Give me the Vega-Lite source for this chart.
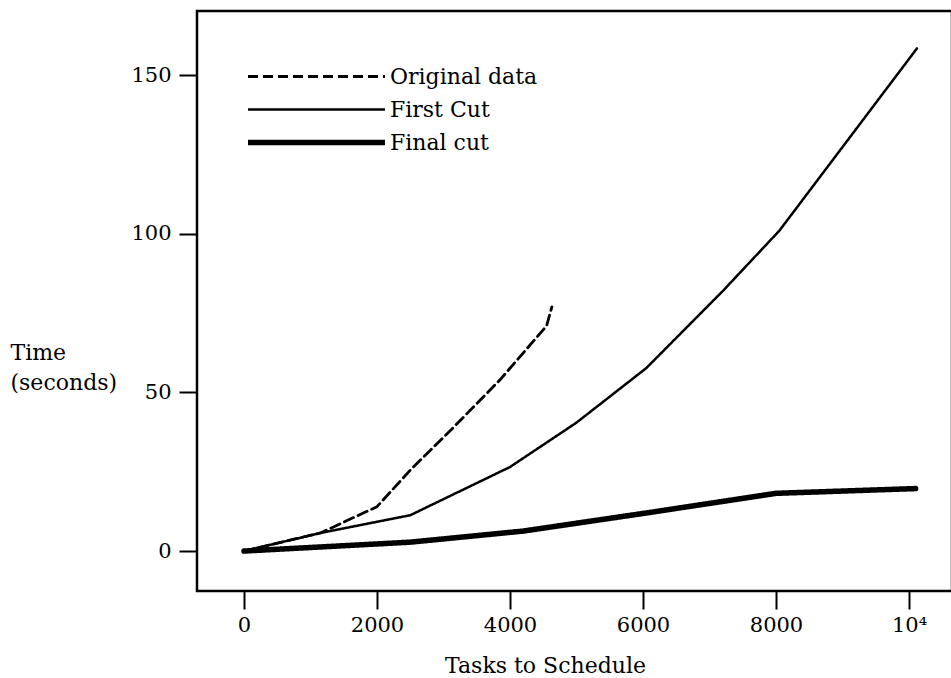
{
  "$schema": "https://vega.github.io/schema/vega-lite/v6.json",
  "width": 755,
  "height": 580,
  "autosize": {"type": "none"},
  "padding": {"left": 197, "top": 11, "right": 0, "bottom": 87},
  "background": "white",
  "config": {
    "font": "DejaVu Serif",
    "view": {"stroke": "black", "strokeWidth": 2.5},
    "axis": {"grid": false, "domain": false, "tickColor": "black", "tickWidth": 2, "labelColor": "black", "titleColor": "black", "labelFont": "DejaVu Serif", "titleFont": "DejaVu Serif", "labelFontSize": 21, "titleFontSize": 22, "titleFontWeight": "normal"},
    "legend": {"labelFont": "DejaVu Serif", "labelFontSize": 22, "labelColor": "black"}
  },
  "data": {
    "values": [
      {"series": "Original data", "x": 0, "y": 0},
      {"series": "Original data", "x": 1150, "y": 5.7},
      {"series": "Original data", "x": 2000, "y": 14},
      {"series": "Original data", "x": 2500, "y": 25.5},
      {"series": "Original data", "x": 3150, "y": 39},
      {"series": "Original data", "x": 3850, "y": 54},
      {"series": "Original data", "x": 4550, "y": 71},
      {"series": "Original data", "x": 4630, "y": 77},
      {"series": "First Cut", "x": 0, "y": 0},
      {"series": "First Cut", "x": 1150, "y": 5.7},
      {"series": "First Cut", "x": 2500, "y": 11.3},
      {"series": "First Cut", "x": 4000, "y": 26.5},
      {"series": "First Cut", "x": 5000, "y": 40.5},
      {"series": "First Cut", "x": 6050, "y": 57.7},
      {"series": "First Cut", "x": 7200, "y": 82},
      {"series": "First Cut", "x": 8050, "y": 101},
      {"series": "First Cut", "x": 10120, "y": 158.5},
      {"series": "Final cut", "x": 0, "y": 0},
      {"series": "Final cut", "x": 2500, "y": 2.8},
      {"series": "Final cut", "x": 4200, "y": 6.3},
      {"series": "Final cut", "x": 6050, "y": 12},
      {"series": "Final cut", "x": 8000, "y": 18.2},
      {"series": "Final cut", "x": 10100, "y": 19.7}
    ]
  },
  "mark": {"type": "line", "color": "black", "strokeCap": "round", "strokeJoin": "round"},
  "encoding": {
    "x": {
      "field": "x", "type": "quantitative",
      "scale": {"domain": [-707, 10647], "nice": false, "zero": false},
      "axis": {"values": [0, 2000, 4000, 6000, 8000, 10000], "labelExpr": "datum.value == 10000 ? '10⁴' : datum.value", "tickSize": 18, "labelPadding": 5, "title": "Tasks to Schedule", "titleX": 348, "titleY": 81, "titleBaseline": "alphabetic", "titleAnchor": "start", "titleAlign": "center", "labelFlush": false}
    },
    "y": {
      "field": "y", "type": "quantitative",
      "scale": {"domain": [-12.6, 170.3], "nice": false, "zero": false},
      "axis": {"values": [0, 50, 100, 150], "tickSize": 18, "labelPadding": 8, "title": ["Time", "(seconds)"], "titleAngle": 0, "titleAlign": "left", "titleBaseline": "top", "titleX": -187, "titleY": 331, "titleLineHeight": 30, "labelFlush": false}
    },
    "strokeDash": {
      "field": "series", "type": "ordinal",
      "scale": {"domain": ["Original data", "First Cut", "Final cut"], "range": [[10, 5], [1, 0], [1, 0]]},
      "legend": {"title": null, "orient": "none", "legendX": 48, "legendY": 49, "symbolType": "stroke", "symbolSize": 18769, "symbolStrokeColor": "black", "labelOffset": 2, "rowPadding": 0, "clipHeight": 33, "padding": 0}
    },
    "strokeWidth": {
      "field": "series", "type": "ordinal",
      "scale": {"type": "ordinal", "domain": ["Original data", "First Cut", "Final cut"], "range": [2.8, 2.5, 5.5]},
      "legend": {"title": null, "orient": "none", "legendX": 48, "legendY": 49, "symbolType": "stroke", "symbolSize": 18769, "symbolStrokeColor": "black", "labelOffset": 2, "rowPadding": 0, "clipHeight": 33, "padding": 0}
    }
  }
}
